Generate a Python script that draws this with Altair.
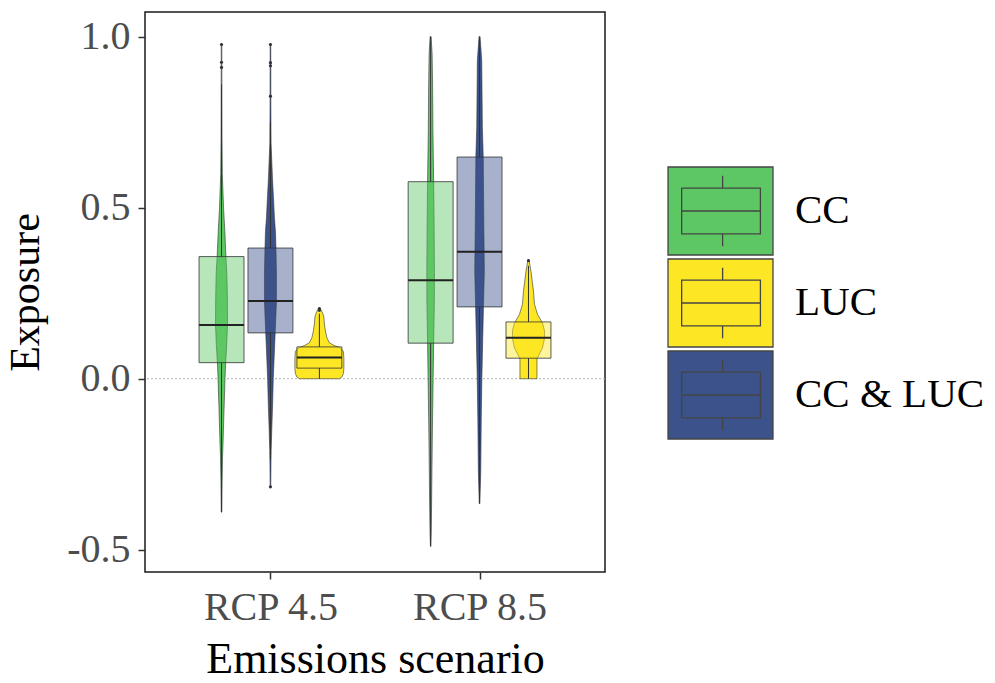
import altair as alt
import pandas as pd

# ---------------------------------------------------------------- data
scenarios = ["RCP 4.5", "RCP 8.5"]
groups = ["CC", "LUC", "CC & LUC"]
group_colors = ["#5DC863", "#FDE725", "#3B528B"]
dodge_order = ["CC", "CC & LUC", "LUC"]  # left-to-right inside each scenario

# Box-plot summaries, one value per entry of `groups`
rcp45_low = [-0.39, 0.0, -0.235]
rcp45_q1 = [0.047, 0.031, 0.134]
rcp45_median = [0.157, 0.062, 0.227]
rcp45_q3 = [0.357, 0.093, 0.382]
rcp45_high = [0.86, 0.19, 0.75]

rcp85_low = [-0.49, 0.0, -0.365]
rcp85_q1 = [0.104, 0.060, 0.210]
rcp85_median = [0.288, 0.120, 0.371]
rcp85_q3 = [0.576, 0.166, 0.648]
rcp85_high = [1.0, 0.33, 1.0]

# Points beyond the whiskers
outlier_scenario = ["RCP 4.5"] * 10 + ["RCP 8.5"]
outlier_group = ["CC", "CC", "CC", "CC & LUC", "CC & LUC", "CC & LUC",
                 "CC & LUC", "CC & LUC", "LUC", "LUC", "LUC"]
outlier_value = [0.977, 0.925, 0.91, 0.977, 0.924, 0.915, 0.826, -0.316,
                 0.205, 0.2, 0.345]

# Violin outlines: exposure level and density half-width (x units)
cc_rcp45_level = [-0.39, -0.30, -0.23, -0.19, -0.09, 0.0, 0.04, 0.10, 0.16,
                  0.24, 0.31, 0.35, 0.43, 0.50, 0.60, 0.70, 0.80, 0.90, 0.98]
cc_rcp45_half = [0.0014, 0.0029, 0.0048, 0.0072, 0.0120, 0.0167, 0.0191,
                 0.0249, 0.0287, 0.0278, 0.0254, 0.0215, 0.0158, 0.0096,
                 0.0038, 0.0024, 0.0019, 0.0017, 0.0014]

ccluc_rcp45_level = [-0.316, -0.25, -0.21, -0.15, -0.07, 0.0, 0.07, 0.134,
                     0.18, 0.227, 0.265, 0.31, 0.38, 0.43, 0.47, 0.53, 0.585,
                     0.69, 0.80, 0.90, 0.98]
ccluc_rcp45_half = [0.0014, 0.0024, 0.0033, 0.0062, 0.0105, 0.0134, 0.0182,
                    0.0225, 0.0258, 0.0287, 0.0287, 0.0287, 0.0263, 0.0239,
                    0.0191, 0.0144, 0.0096, 0.0029, 0.0019, 0.0017, 0.0014]

luc_rcp45_level = [0.0, 0.005, 0.015, 0.03, 0.06, 0.08, 0.09, 0.097, 0.105,
                   0.12, 0.14, 0.16, 0.18, 0.19, 0.20, 0.207]
luc_rcp45_half = [0.0957, 0.1077, 0.1148, 0.1172, 0.1172, 0.1148, 0.1005,
                  0.0718, 0.0478, 0.0359, 0.0287, 0.0239, 0.0215, 0.0167,
                  0.0096, 0.0024]

cc_rcp85_level = [-0.49, -0.45, -0.36, -0.17, 0.0, 0.10, 0.22, 0.31, 0.45,
                  0.58, 0.73, 0.85, 0.95, 1.0]
cc_rcp85_half = [0.0010, 0.0029, 0.0048, 0.0081, 0.0120, 0.0144, 0.0177,
                 0.0182, 0.0167, 0.0144, 0.0110, 0.0096, 0.0072, 0.0024]

ccluc_rcp85_level = [-0.365, -0.27, -0.12, 0.0, 0.12, 0.218, 0.314, 0.445,
                     0.648, 0.735, 0.93, 1.0]
ccluc_rcp85_half = [0.0014, 0.0057, 0.0081, 0.0110, 0.0153, 0.0191, 0.0230,
                    0.0206, 0.0177, 0.0134, 0.0105, 0.0024]

luc_rcp85_level = [0.0, 0.058, 0.067, 0.09, 0.118, 0.14, 0.163, 0.188,
                   0.218, 0.256, 0.314, 0.348]
luc_rcp85_half = [0.0407, 0.0407, 0.0478, 0.0670, 0.0766, 0.0766, 0.0670,
                  0.0431, 0.0287, 0.0239, 0.0120, 0.0024]

# ---------------------------------------------------------------- layout helpers
DODGE_STEP = 0.234   # distance between neighbouring groups, in category units
BOX_HALF = 0.1075    # half width of a box


def centre(scenario, group):
    return scenarios.index(scenario) + 1 + (dodge_order.index(group) - 1) * DODGE_STEP


violin_sources = [
    ("RCP 4.5", "CC", cc_rcp45_level, cc_rcp45_half),
    ("RCP 4.5", "CC & LUC", ccluc_rcp45_level, ccluc_rcp45_half),
    ("RCP 4.5", "LUC", luc_rcp45_level, luc_rcp45_half),
    ("RCP 8.5", "CC", cc_rcp85_level, cc_rcp85_half),
    ("RCP 8.5", "CC & LUC", ccluc_rcp85_level, ccluc_rcp85_half),
    ("RCP 8.5", "LUC", luc_rcp85_level, luc_rcp85_half),
]
violin_rows = []
for scn, grp, levels, halves in violin_sources:
    c = centre(scn, grp)
    for lv, hw in zip(levels, halves):
        violin_rows.append({"scenario": scn, "group": grp, "vid": f"{scn} | {grp}",
                            "level": lv, "left": c - hw, "right": c + hw})
violin_df = pd.DataFrame(violin_rows)

box_rows = []
for scn, lows, q1s, meds, q3s, highs in [
    ("RCP 4.5", rcp45_low, rcp45_q1, rcp45_median, rcp45_q3, rcp45_high),
    ("RCP 8.5", rcp85_low, rcp85_q1, rcp85_median, rcp85_q3, rcp85_high),
]:
    for i, grp in enumerate(groups):
        c = centre(scn, grp)
        box_rows.append({"scenario": scn, "group": grp, "xc": c,
                         "xl": c - BOX_HALF, "xr": c + BOX_HALF,
                         "low": lows[i], "q1": q1s[i], "median": meds[i],
                         "q3": q3s[i], "high": highs[i]})
box_df = pd.DataFrame(box_rows)

outlier_df = pd.DataFrame({"scenario": outlier_scenario, "group": outlier_group,
                           "value": outlier_value})
outlier_df["xc"] = [centre(s, g) for s, g in zip(outlier_scenario, outlier_group)]

# ---------------------------------------------------------------- scales & guides
FONT = "Liberation Serif"
x_scale = alt.Scale(domain=[0.4, 2.6], nice=False, zero=False)
y_scale = alt.Scale(domain=[-0.565, 1.072], nice=False, zero=False)
fill_scale = alt.Scale(domain=groups, range=group_colors)

x_label_expr = " : ".join(
    f"datum.value == {i + 1} ? '{s}'" for i, s in enumerate(scenarios[:-1])
) + f" : '{scenarios[-1]}'"

x_axis = alt.Axis(values=[1, 2], labelExpr=x_label_expr, labelPadding=8,
                  titlePadding=10, labelFlush=False, titleFontSize=44)
y_axis = alt.Axis(values=[-0.5, 0.0, 0.5, 1.0], labelPadding=8, titlePadding=19,
                  labelExpr="datum.value < 0 ? '-' + format(-datum.value, '.1f') "
                            ": format(datum.value, '.1f')")

X_TITLE = "Emissions scenario"
Y_TITLE = "Exposure"

# boxplot glyph used as legend key (wider than tall): filled frame, box,
# median and whiskers
key_path = ("M-1.193,-1L1.193,-1L1.193,1L-1.193,1Z"
            "M-0.883,-0.52L0.907,-0.52L0.907,0.52L-0.883,0.52Z"
            "M-0.883,0L0.907,0"
            "M0.048,-0.52L0.048,-0.8M0.048,0.52L0.048,0.8")

legend = alt.Legend(title=None, orient="none", legendX=530.5, legendY=154,
                    symbolType=key_path, symbolSize=7744,
                    symbolStrokeColor="#444444", symbolStrokeWidth=1.3,
                    symbolOpacity=1, labelFont=FONT, labelFontSize=41,
                    labelColor="black", labelOffset=29.5, labelLimit=400,
                    rowPadding=-5.5, padding=0)

# ---------------------------------------------------------------- layers
zero_line = alt.Chart(pd.DataFrame({"y": [0.0]})).mark_rule(
    color="#b0b0b0", strokeDash=[2, 2], strokeWidth=1
).encode(y=alt.Y("y:Q", scale=y_scale, axis=y_axis, title=Y_TITLE))

violins = alt.Chart(violin_df).mark_area(
    orient="horizontal", stroke="#333333", strokeWidth=0.6, fillOpacity=1
).encode(
    y=alt.Y("level:Q", scale=y_scale, axis=y_axis, title=Y_TITLE),
    x=alt.X("left:Q", scale=x_scale, axis=x_axis, title=X_TITLE),
    x2="right:Q",
    fill=alt.Fill("group:N", scale=fill_scale, legend=legend),
    detail="vid:N",
)

boxes = alt.Chart(box_df).mark_rect(
    fillOpacity=0.45, stroke="#333333", strokeOpacity=0.8, strokeWidth=1
).encode(
    x=alt.X("xl:Q", scale=x_scale, axis=x_axis, title=X_TITLE),
    x2="xr:Q",
    y=alt.Y("q1:Q", scale=y_scale, axis=y_axis, title=Y_TITLE),
    y2="q3:Q",
    fill=alt.Fill("group:N", scale=fill_scale, legend=None),
)

lower_whiskers = alt.Chart(box_df).mark_rule(color="#333333", strokeWidth=1).encode(
    x=alt.X("xc:Q", scale=x_scale, axis=x_axis, title=X_TITLE),
    y=alt.Y("low:Q", scale=y_scale, axis=y_axis, title=Y_TITLE),
    y2="q1:Q",
)
upper_whiskers = alt.Chart(box_df).mark_rule(color="#333333", strokeWidth=1).encode(
    x=alt.X("xc:Q", scale=x_scale, axis=x_axis, title=X_TITLE),
    y=alt.Y("q3:Q", scale=y_scale, axis=y_axis, title=Y_TITLE),
    y2="high:Q",
)

medians = alt.Chart(box_df).mark_rule(color="#222222", strokeWidth=2).encode(
    x=alt.X("xl:Q", scale=x_scale, axis=x_axis, title=X_TITLE),
    x2="xr:Q",
    y=alt.Y("median:Q", scale=y_scale, axis=y_axis, title=Y_TITLE),
)

outliers = alt.Chart(outlier_df).mark_circle(color="#333333", size=10, opacity=1).encode(
    x=alt.X("xc:Q", scale=x_scale, axis=x_axis, title=X_TITLE),
    y=alt.Y("value:Q", scale=y_scale, axis=y_axis, title=Y_TITLE),
)

chart = alt.layer(
    zero_line, violins, boxes, lower_whiskers, upper_whiskers, medians, outliers
).properties(
    width=460, height=560,
    padding={"left": 4, "top": 12, "right": 5, "bottom": 0},
    background="white",
).configure_view(
    stroke="#1a1a1a", strokeWidth=1.5
).configure_axis(
    domain=False, grid=False,
    tickColor="#333333", tickWidth=1.5, tickSize=7,
    labelFont=FONT, labelFontSize=40, labelColor="#4d4d4d",
    titleFont=FONT, titleFontSize=42, titleColor="black", titleFontWeight="normal",
)

chart.save("out.html", embed_options={"renderer": "svg", "actions": False})
